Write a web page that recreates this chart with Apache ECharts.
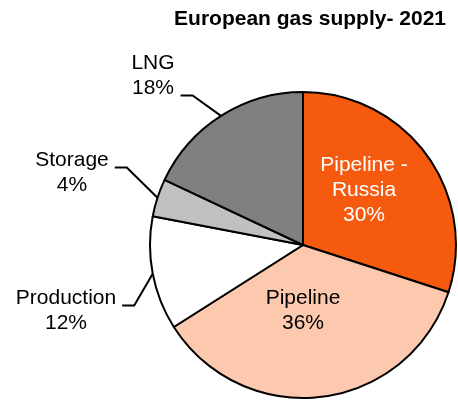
<!DOCTYPE html>
<html>
<head>
<meta charset="utf-8">
<script src="https://cdn.jsdelivr.net/npm/echarts@6/dist/echarts.min.js"></script>
<style>
html,body{margin:0;padding:0;background:#fff;}
#chart{width:458px;height:403px;}
</style>
</head>
<body>
<div id="chart"></div>
<script>
const titleText = 'European gas supply- 2021';
const categories = ['Pipeline -\nRussia', 'Pipeline', 'Production', 'Storage', 'LNG'];
const values = [30, 36, 12, 4, 18];
const colors = ['#F55A0E', '#FCC9AF', '#FFFFFF', '#C0C0C0', '#808080'];
const labelColors = ['#FFFFFF', '#000000', '#000000', '#000000', '#000000'];

// label anchor positions (layout only)
const labelPos = [
  {x: 364, y: 190},
  {x: 303, y: 311},
  {x: 66, y: 311},
  {x: 72, y: 173},
  {x: 153, y: 76}
];
const outside = [false, false, true, true, true];
// which text line the leader attaches to (0 = first, 1 = second)
const leaderLine = [0, 0, 0, 0, 1];

const LH = 25;
const chart = echarts.init(document.getElementById('chart'), null, {renderer: 'canvas'});
chart.setOption({
  animation: false,
  title: {
    text: titleText,
    right: 7,
    top: 4,
    textStyle: {fontFamily: 'Liberation Sans', fontWeight: 'bold', fontSize: 21, color: '#000'}
  },
  series: [{
    type: 'pie',
    center: [303, 245],
    radius: [0, 153],
    startAngle: 90,
    clockwise: true,
    avoidLabelOverlap: false,
    data: categories.map((c, i) => ({
      name: c,
      value: values[i],
      itemStyle: {color: colors[i]},
      label: {color: labelColors[i], position: outside[i] ? 'outside' : 'inside'},
      labelLine: {show: outside[i]}
    })),
    itemStyle: {borderColor: '#000', borderWidth: 2},
    label: {
      show: true,
      formatter: p => p.name + '\n' + p.value + '%',
      fontFamily: 'Liberation Sans',
      fontSize: 21,
      lineHeight: LH,
      align: 'center'
    },
    labelLine: {
      length: 20,
      length2: 12,
      lineStyle: {color: '#000', width: 2}
    },
    labelLayout: function (params) {
      const i = params.dataIndex;
      const pos = labelPos[i];
      const res = {x: pos.x, y: pos.y, align: 'center', verticalAlign: 'middle'};
      if (outside[i] && params.labelLinePoints) {
        const p0 = params.labelLinePoints[0];
        const w = params.labelRect.width;
        const ex = pos.x + w / 2 + 6;
        const lineCenter = pos.y - LH / 2 + leaderLine[i] * LH;
        const ey = lineCenter + 7;
        res.labelLinePoints = [[p0[0], p0[1]], [ex + 12, ey], [ex, ey]];
      }
      return res;
    }
  }]
});
</script>
</body>
</html>
